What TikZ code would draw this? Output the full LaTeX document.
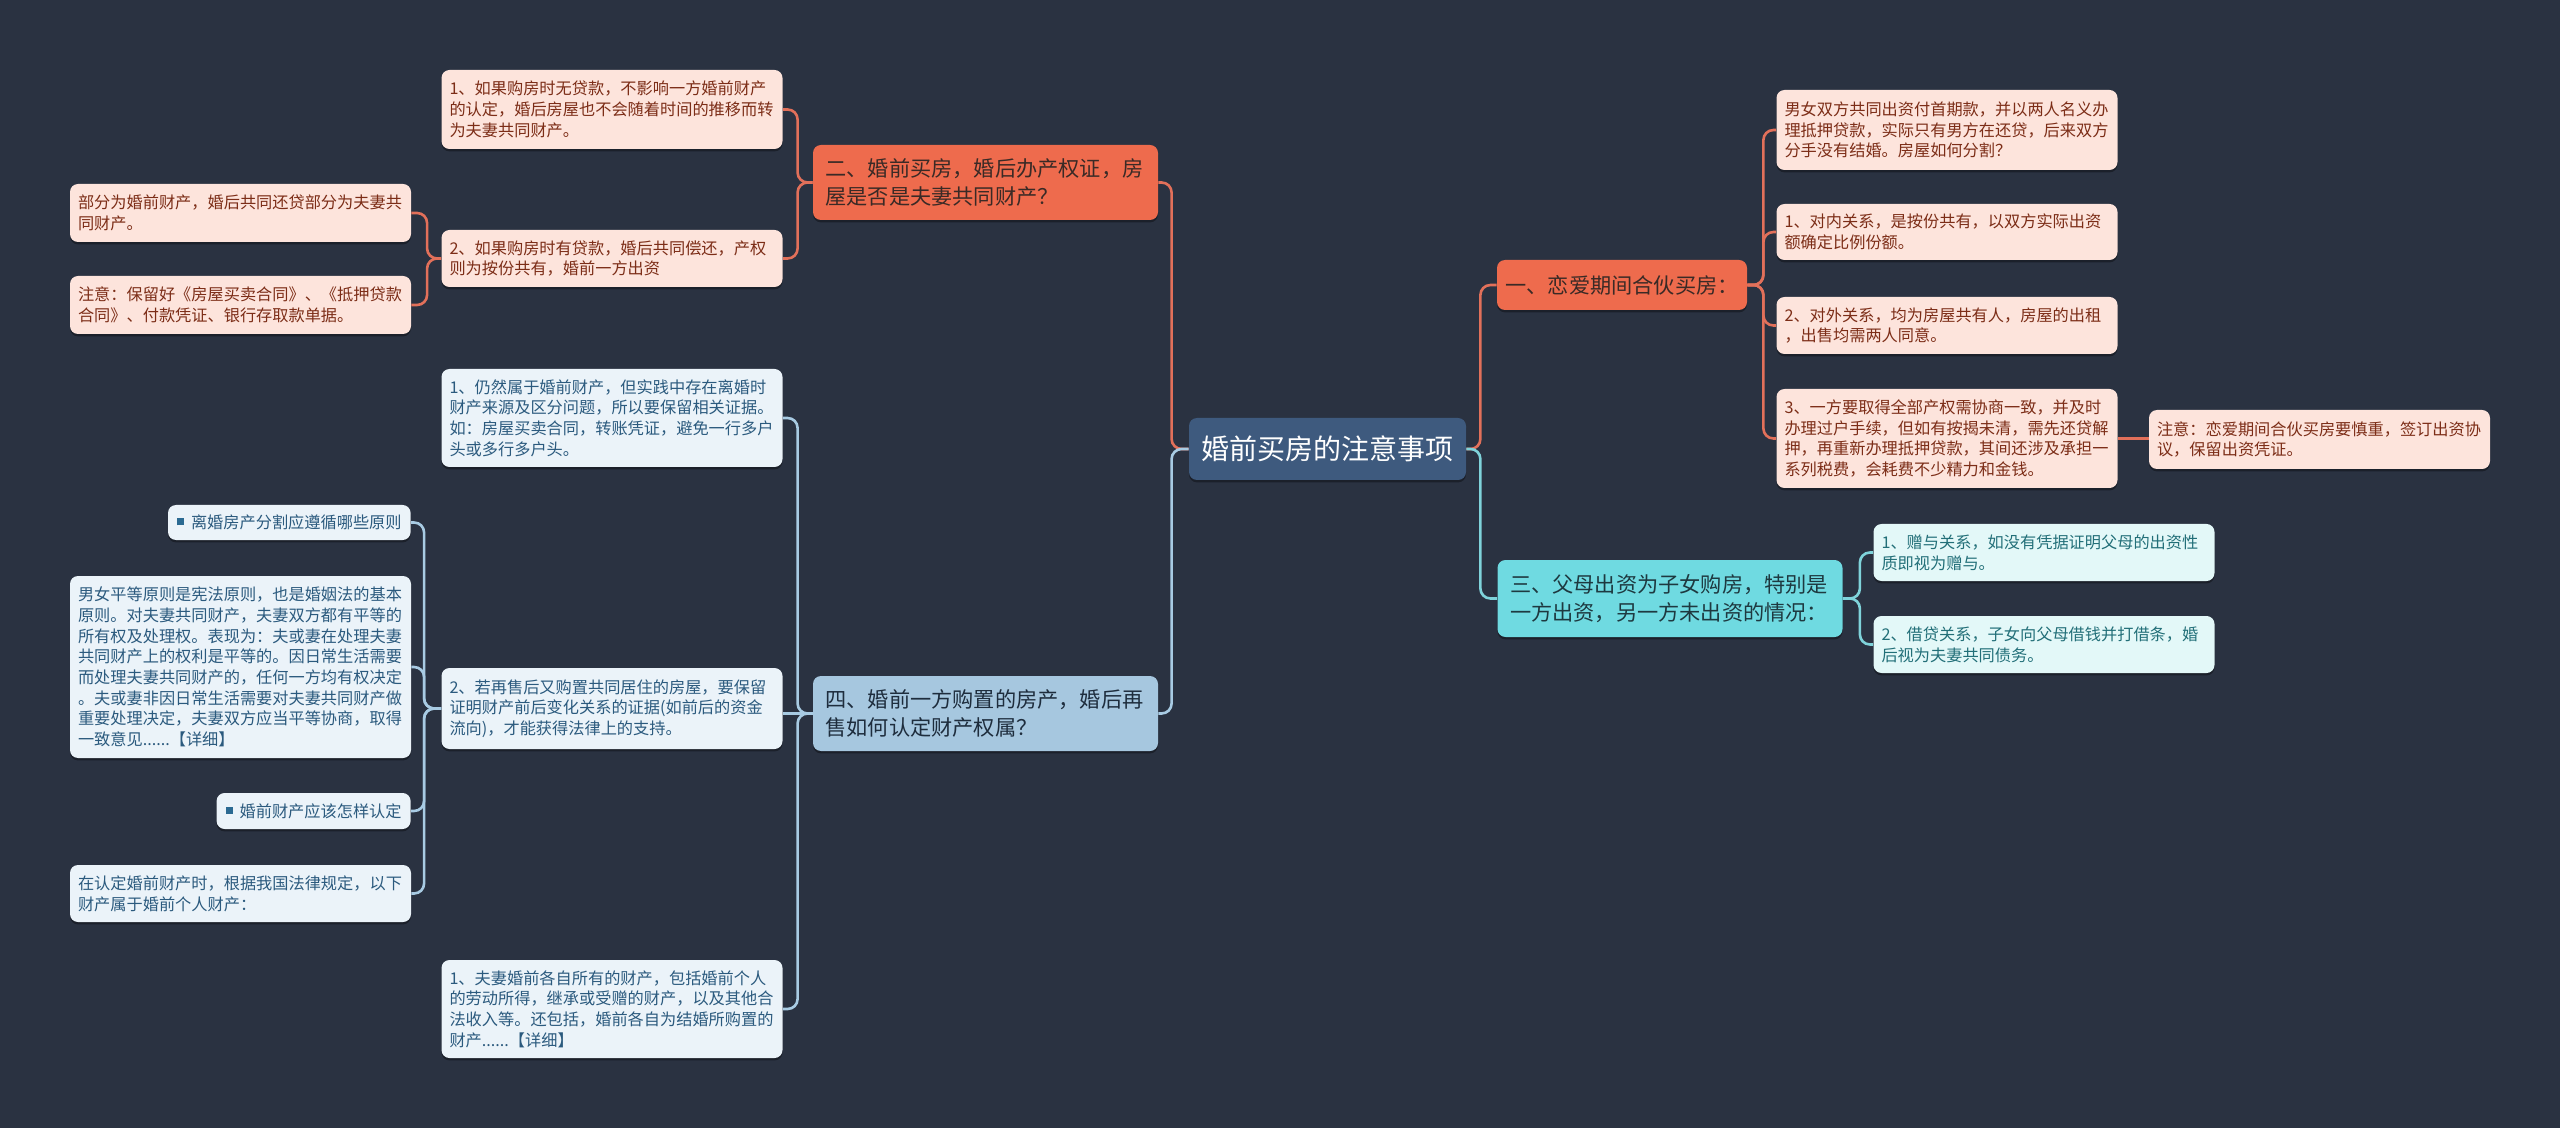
\documentclass[tikz,border=0pt]{standalone}
\usepackage{fontspec}
\setmainfont{Noto Sans CJK SC}
\usetikzlibrary{shadows}
\definecolor{bgc}{HTML}{2A3241}
\definecolor{rootc}{HTML}{3E5A7E}
\definecolor{orgc}{HTML}{EE6B4D}
\definecolor{orgt}{HTML}{3A2A26}
\definecolor{orgl}{HTML}{E2705A}
\definecolor{pnkc}{HTML}{FDE4DC}
\definecolor{pnkt}{HTML}{7C2D17}
\definecolor{cyac}{HTML}{6FDAE1}
\definecolor{cyat}{HTML}{1E3940}
\definecolor{cyal}{HTML}{7FD3DA}
\definecolor{lcyc}{HTML}{E3F8F8}
\definecolor{lcyt}{HTML}{226F78}
\definecolor{bluc}{HTML}{A6C7DF}
\definecolor{blut}{HTML}{1E2D3D}
\definecolor{blul}{HTML}{A8CBE3}
\definecolor{lblc}{HTML}{EBF3F9}
\definecolor{lblt}{HTML}{2B5A7E}
\definecolor{sqc}{HTML}{2B6A92}
\newcommand{\sqb}{{\color{sqc}\rule[1.6pt]{3.5pt}{3.5pt}}\hspace{3.5pt}}
\tikzset{bx/.style={rectangle, rounded corners=4pt, align=left, inner ysep=1pt, drop shadow={shadow xshift=0pt, shadow yshift=-1.2pt, opacity=0.35, fill=black}}}
\tikzset{Rt/.style={bx, fill=rootc, text=white, font=\fontsize{14}{16}\selectfont, minimum width=138.5pt, minimum height=31pt}}
\tikzset{M/.style={bx, font=\fontsize{10.6}{14}\selectfont, inner xsep=6.25pt}}
\tikzset{O/.style={M, fill=orgc, text=orgt}}
\tikzset{C/.style={M, fill=cyac, text=cyat}}
\tikzset{L/.style={M, fill=bluc, text=blut}}
\tikzset{lf/.style={bx, font=\fontsize{8.1}{10.35}\selectfont, inner xsep=4pt}}
\tikzset{P/.style={lf, fill=pnkc, text=pnkt, text width=162.5pt}}
\tikzset{K/.style={lf, fill=lcyc, text=lcyt, text width=162.5pt}}
\tikzset{W/.style={lf, fill=lblc, text=lblt, text width=162.5pt}}
\tikzset{Wt/.style={lf, fill=lblc, text=lblt, inner xsep=4.5pt, anchor=east}}
\tikzset{ln/.style={line width=1.3pt, rounded corners=5pt}}

\begin{document}
\begin{tikzpicture}[x=0.5pt,y=-0.5pt]
\fill[bgc] (0,0) rectangle (2560,1128);
\useasboundingbox (0,0) rectangle (2560,1128);

\node[Rt] (root) at (1327.5,449) {婚前买房的注意事项};

% left, upper branch
\node[O, text width=160pt, minimum height=37.5pt] (two) at (985.5,182.5) {二、婚前买房，婚后办产权证，房\\屋是否是夫妻共同财产？};
\node[P, minimum height=39.5pt] (two1) at (612,109.5) {1、如果购房时无贷款，不影响一方婚前财产\\的认定，婚后房屋也不会随着时间的推移而转\\为夫妻共同财产。};
\node[P, minimum height=28.5pt] (two2) at (612,258.5) {2、如果购房时有贷款，婚后共同偿还，产权\\则为按份共有，婚前一方出资};
\node[P, minimum height=29pt] (two2a) at (240.5,213) {部分为婚前财产，婚后共同还贷部分为夫妻共\\同财产。};
\node[P, minimum height=29pt] (two2b) at (240.5,305) {注意：保留好《房屋买卖合同》、《抵押贷款\\合同》、付款凭证、银行存取款单据。};

% left, lower branch
\node[L, text width=160pt, minimum height=37.5pt] (four) at (985.5,713.5) {四、婚前一方购置的房产，婚后再\\售如何认定财产权属？};
\node[W, minimum height=49pt] (four1) at (612,418) {1、仍然属于婚前财产，但实践中存在离婚时\\财产来源及区分问题，所以要保留相关证据。\\如：房屋买卖合同，转账凭证，避免一行多户\\头或多行多户头。};
\node[W, minimum height=40.5pt] (four2) at (612,708.5) {2、若再售后又购置共同居住的房屋，要保留\\证明财产前后变化关系的证据(如前后的资金\\流向)，才能获得法律上的支持。};
\node[Wt, minimum height=17.5pt] (tag1) at (411,522.5) {\sqb 离婚房产分割应遵循哪些原则};
\node[W, minimum height=91pt] (four2b) at (240.5,667) {男女平等原则是宪法原则，也是婚姻法的基本\\原则。对夫妻共同财产，夫妻双方都有平等的\\所有权及处理权。表现为：夫或妻在处理夫妻\\共同财产上的权利是平等的。因日常生活需要\\而处理夫妻共同财产的，任何一方均有权决定\\。夫或妻非因日常生活需要对夫妻共同财产做\\重要处理决定，夫妻双方应当平等协商，取得\\一致意见......【详细】};
\node[Wt, minimum height=18pt] (tag2) at (411,811) {\sqb 婚前财产应该怎样认定};
\node[W, minimum height=28.5pt] (four2d) at (240.5,893.5) {在认定婚前财产时，根据我国法律规定，以下\\财产属于婚前个人财产：};
\node[W, minimum height=49pt] (four3) at (612,1009) {1、夫妻婚前各自所有的财产，包括婚前个人\\的劳动所得，继承或受赠的财产，以及其他合\\法收入等。还包括，婚前各自为结婚所购置的\\财产......【详细】};

% right, upper branch
\node[O, minimum width=125pt, minimum height=25pt, inner xsep=4pt] (one) at (1622,285) {一、恋爱期间合伙买房：};
\node[P, minimum height=40pt] (one0) at (1947,130) {男女双方共同出资付首期款，并以两人名义办\\理抵押贷款，实际只有男方在还贷，后来双方\\分手没有结婚。房屋如何分割？};
\node[P, minimum height=28pt] (one1) at (1947,232) {1、对内关系，是按份共有，以双方实际出资\\额确定比例份额。};
\node[P, minimum height=28.5pt] (one2) at (1947,325.5) {2、对外关系，均为房屋共有人，房屋的出租\\，出售均需两人同意。};
\node[P, minimum height=49.5pt] (one3) at (1947,438.5) {3、一方要取得全部产权需协商一致，并及时\\办理过户手续，但如有按揭未清，需先还贷解\\押，再重新办理抵押贷款，其间还涉及承担一\\系列税费，会耗费不少精力和金钱。};
\node[P, minimum height=29.5pt] (note) at (2319.5,439.5) {注意：恋爱期间合伙买房要慎重，签订出资协\\议，保留出资凭证。};

% right, lower branch
\node[C, text width=160pt, minimum height=38.5pt] (three) at (1670,598.5) {三、父母出资为子女购房，特别是\\一方出资，另一方未出资的情况：};
\node[K, minimum height=28.5pt] (three1) at (2044,552.5) {1、赠与关系，如没有凭据证明父母的出资性\\质即视为赠与。};
\node[K, minimum height=28.5pt] (three2) at (2044,644.5) {2、借贷关系，子女向父母借钱并打借条，婚\\后视为夫妻共同债务。};

% connectors
\draw[ln, orgl] (root.west) -- ++(-17,0) |- (two.east);
\draw[ln, blul] (root.west) -- ++(-17,0) |- (four.east);
\draw[ln, orgl] (root.east) -- ++(14,0) |- (one.west);
\draw[ln, cyal] (root.east) -- ++(14,0) |- (three.west);

\draw[ln, orgl] (two.west) -- ++(-15,0) |- (two1.east);
\draw[ln, orgl] (two.west) -- ++(-15,0) |- (two2.east);
\draw[ln, orgl] (two2.west) -- ++(-14,0) |- (two2a.east);
\draw[ln, orgl] (two2.west) -- ++(-14,0) |- (two2b.east);

\draw[ln, blul] (four.west) -- ++(-15,0) |- (four1.east);
\draw[ln, blul] (four.west) -- (four.west -| four2.east);
\draw[ln, blul] (four.west) -- ++(-15,0) |- (four3.east);
\draw[ln, blul] (four2.west) -- ++(-17,0) |- (tag1.east);
\draw[ln, blul] (four2.west) -- ++(-17,0) |- (four2b.east);
\draw[ln, blul] (four2.west) -- ++(-17,0) |- (tag2.east);
\draw[ln, blul] (four2.west) -- ++(-17,0) |- (four2d.east);

\draw[ln, orgl] (one.east) -- ++(16,0) |- (one0.west);
\draw[ln, orgl] (one.east) -- ++(16,0) |- (one1.west);
\draw[ln, orgl] (one.east) -- ++(16,0) |- (one2.west);
\draw[ln, orgl] (one.east) -- ++(16,0) |- (one3.west);
\draw[ln, orgl] (one3.east) -- (one3.east -| note.west);

\draw[ln, cyal] (three.east) -- ++(17,0) |- (three1.west);
\draw[ln, cyal] (three.east) -- ++(17,0) |- (three2.west);
\end{tikzpicture}
\end{document}
